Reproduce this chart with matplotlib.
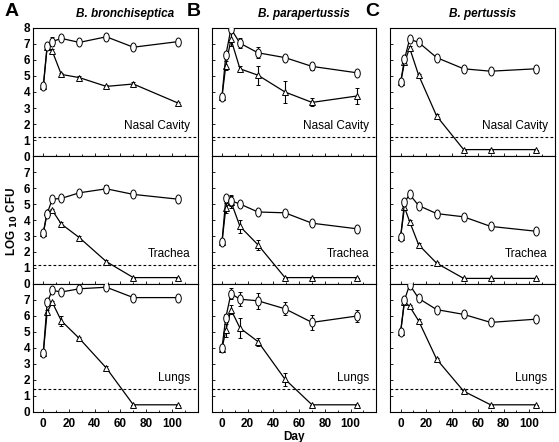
import matplotlib
matplotlib.use("Agg")
import matplotlib.pyplot as plt
from matplotlib.path import Path
from matplotlib.transforms import Affine2D
from matplotlib.ticker import MultipleLocator

plt.rcParams['font.family'] = ['Liberation Sans', 'DejaVu Sans']

days = [0, 3, 7, 14, 28, 49, 70, 105]
species = ["B. bronchiseptica", "B. parapertussis", "B. pertussis"]
panel_letters = ["A", "B", "C"]
organs = ["Nasal Cavity", "Trachea", "Lungs"]
detection_limit = [1.2, 1.2, 1.45]

# circles (upper curves) and triangles (lower curves), per species and organ
bb_nasal_circ = [4.35, 6.9, 7.15, 7.35, 7.1, 7.45, 6.8, 7.15]
bb_nasal_tri = [4.35, 6.8, 6.55, 5.1, 4.9, 4.35, 4.5, 3.3]
bb_trach_circ = [3.2, 4.4, 5.3, 5.35, 5.7, 5.95, 5.6, 5.3]
bb_trach_tri = [3.2, 4.5, 4.6, 3.75, 2.9, 1.4, 0.4, 0.4]
bb_lung_circ = [3.7, 6.85, 7.6, 7.5, 7.7, 7.8, 7.15, 7.15]
bb_lung_tri = [3.7, 6.25, 6.85, 5.7, 4.6, 2.75, 0.45, 0.45]

bp_nasal_circ = [3.7, 6.3, 7.95, 7.05, 6.45, 6.15, 5.6, 5.2]
bp_nasal_tri = [3.7, 5.65, 7.3, 5.45, 5.05, 4.0, 3.35, 3.75]
bp_trach_circ = [2.6, 5.35, 5.2, 5.0, 4.5, 4.45, 3.8, 3.45]
bp_trach_tri = [2.6, 4.75, 5.15, 3.6, 2.45, 0.4, 0.4, 0.4]
bp_lung_circ = [4.0, 5.9, 7.4, 7.05, 6.95, 6.45, 5.6, 6.0]
bp_lung_tri = [3.95, 5.1, 6.4, 5.25, 4.4, 2.05, 0.45, 0.45]

bt_nasal_circ = [4.6, 6.05, 7.3, 7.1, 6.15, 5.45, 5.3, 5.45]
bt_nasal_tri = [4.6, 5.85, 6.75, 5.05, 2.5, 0.4, 0.4, 0.4]
bt_trach_circ = [2.95, 5.1, 5.6, 4.9, 4.4, 4.2, 3.6, 3.3]
bt_trach_tri = [2.95, 4.8, 3.9, 2.45, 1.3, 0.35, 0.35, 0.35]
bt_lung_circ = [5.0, 7.0, 7.95, 7.1, 6.4, 6.1, 5.6, 5.8]
bt_lung_tri = [5.0, 6.9, 6.6, 5.7, 3.3, 1.3, 0.45, 0.45]

# error bars
bb_nasal_circ_err = [0, 0, 0.3, 0.1, 0.1, 0.15, 0.1, 0.1]
bb_nasal_tri_err = [0, 0, 0.15, 0.1, 0.1, 0.1, 0.1, 0.1]
bb_trach_circ_err = [0, 0, 0, 0.1, 0.2, 0.25, 0.1, 0.1]
bb_trach_tri_err = [0, 0, 0.1, 0.1, 0.1, 0.1, 0, 0]
bb_lung_circ_err = [0, 0, 0.1, 0.1, 0.1, 0.1, 0.1, 0.1]
bb_lung_tri_err = [0, 0.1, 0.1, 0.3, 0.1, 0.1, 0, 0]

bp_nasal_circ_err = [0, 0.2, 0.1, 0.3, 0.35, 0.15, 0.2, 0.1]
bp_nasal_tri_err = [0, 0.3, 0.4, 0.2, 0.6, 0.7, 0.25, 0.5]
bp_trach_circ_err = [0, 0.1, 0.3, 0.1, 0.1, 0.1, 0.1, 0.1]
bp_trach_tri_err = [0, 0.3, 0.4, 0.4, 0.3, 0, 0, 0]
bp_lung_circ_err = [0, 0.2, 0.35, 0.45, 0.5, 0.4, 0.45, 0.35]
bp_lung_tri_err = [0, 0.4, 0.3, 0.65, 0.25, 0.4, 0, 0]

bt_nasal_circ_err = [0, 0.1, 0.1, 0.1, 0.1, 0.1, 0.15, 0.1]
bt_nasal_tri_err = [0, 0.1, 0.1, 0.1, 0.1, 0, 0, 0]
bt_trach_circ_err = [0, 0.1, 0.1, 0.1, 0.15, 0.1, 0.1, 0.1]
bt_trach_tri_err = [0, 0.1, 0.1, 0.1, 0.1, 0, 0, 0]
bt_lung_circ_err = [0, 0.1, 0.1, 0.1, 0.1, 0.15, 0.1, 0.1]
bt_lung_tri_err = [0, 0.1, 0.1, 0.1, 0.1, 0.1, 0, 0]

circ = [[bb_nasal_circ, bp_nasal_circ, bt_nasal_circ],
        [bb_trach_circ, bp_trach_circ, bt_trach_circ],
        [bb_lung_circ, bp_lung_circ, bt_lung_circ]]
tri = [[bb_nasal_tri, bp_nasal_tri, bt_nasal_tri],
       [bb_trach_tri, bp_trach_tri, bt_trach_tri],
       [bb_lung_tri, bp_lung_tri, bt_lung_tri]]
circ_err = [[bb_nasal_circ_err, bp_nasal_circ_err, bt_nasal_circ_err],
            [bb_trach_circ_err, bp_trach_circ_err, bt_trach_circ_err],
            [bb_lung_circ_err, bp_lung_circ_err, bt_lung_circ_err]]
tri_err = [[bb_nasal_tri_err, bp_nasal_tri_err, bt_nasal_tri_err],
           [bb_trach_tri_err, bp_trach_tri_err, bt_trach_tri_err],
           [bb_lung_tri_err, bp_lung_tri_err, bt_lung_tri_err]]

oval = Path.unit_circle().transformed(Affine2D().scale(0.62, 1.0))

fig, axes = plt.subplots(3, 3, figsize=(5.59, 4.42), dpi=100)
fig.subplots_adjust(left=33/559, right=555/559, bottom=30/442, top=1-28/442,
                    wspace=0.085, hspace=0)

for r in range(3):
    for c in range(3):
        ax = axes[r][c]
        ax.set_xlim(-8, 120)
        ax.set_ylim(0, 8)
        ax.axhline(detection_limit[r], color='black', lw=0.8,
                   linestyle=(0, (2.5, 2)), zorder=1)
        ax.errorbar(days, tri[r][c], yerr=tri_err[r][c], color='black', lw=0.9,
                    elinewidth=0.8, capsize=1.5, capthick=0.8,
                    marker='^', markersize=5, markerfacecolor='white',
                    markeredgecolor='black', markeredgewidth=0.7, zorder=2)
        ax.errorbar(days, circ[r][c], yerr=circ_err[r][c], color='black', lw=0.9,
                    elinewidth=0.8, capsize=1.5, capthick=0.8,
                    marker=oval, markersize=6.5, markerfacecolor='white',
                    markeredgecolor='black', markeredgewidth=0.7, zorder=3)
        ax.text(0.955, detection_limit[r] / 8 + 0.04, organs[r],
                transform=ax.transAxes, ha='right', va='bottom', fontsize=8.5)
        ax.xaxis.set_major_locator(MultipleLocator(20))
        ax.xaxis.set_minor_locator(MultipleLocator(10))
        ax.yaxis.set_major_locator(MultipleLocator(1))
        ax.tick_params(axis='both', which='both', direction='in', length=2,
                       width=0.6, labelsize=8.5, pad=2)
        ax.tick_params(axis='x', which='minor', length=1.5)
        for sp in ax.spines.values():
            sp.set_linewidth(0.8)
        if c == 0:
            ax.set_yticks(range(0, 9))
            if r == 0:
                ax.set_yticklabels([str(v) for v in range(0, 9)],
                                   fontweight='bold', fontsize=8.5)
            else:
                ax.set_yticklabels([str(v) for v in range(0, 8)] + [''],
                                   fontweight='bold', fontsize=8.5)
        else:
            ax.tick_params(axis='y', labelleft=False)
        if r == 2:
            ax.set_xticks([0, 20, 40, 60, 80, 100])
            ax.set_xticklabels(['0', '20', '40', '60', '80', '100'],
                               fontweight='bold', fontsize=8.5)
            ax.tick_params(axis='x', pad=4)
        else:
            ax.tick_params(axis='x', labelbottom=False)

for c in range(3):
    ax = axes[0][c]
    ax.text(-0.17 if c == 0 else -0.15, 1.06, panel_letters[c],
            transform=ax.transAxes, ha='left', va='bottom',
            fontsize=14, fontweight='bold')
    ax.text(0.56, 1.06, species[c], transform=ax.transAxes, ha='center',
            va='bottom', fontsize=8.5, fontweight='bold', style='italic')

axes[2][1].set_xlabel('Day', fontsize=8.5, fontweight='bold', labelpad=1)
fig.text(0.022, 0.5, r'LOG $_{\mathbf{10}}$ CFU', rotation=90, ha='center',
         va='center', fontsize=8.5, fontweight='bold')

fig.savefig('out.png', dpi=100)
